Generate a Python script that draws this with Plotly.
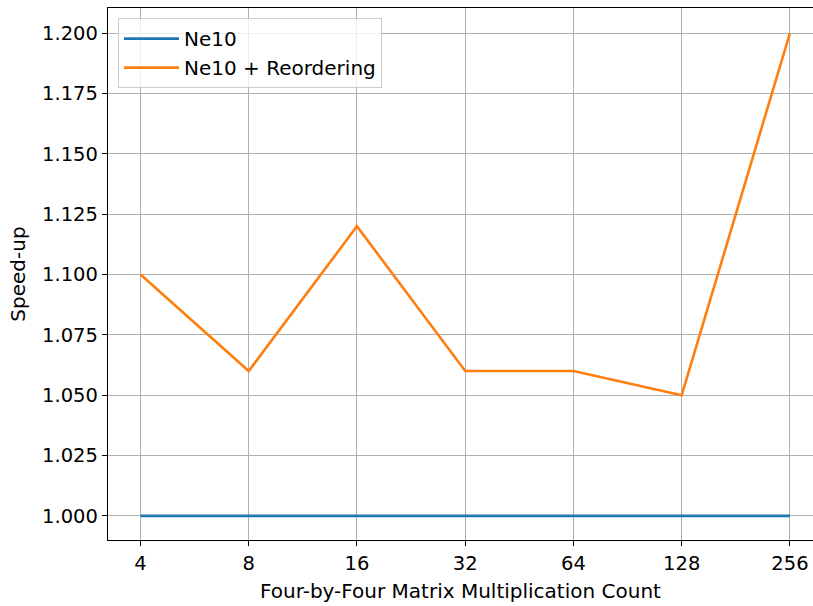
import plotly.graph_objects as go

categories = ["4", "8", "16", "32", "64", "128", "256"]
ne10 = [1.0, 1.0, 1.0, 1.0, 1.0, 1.0, 1.0]
ne10_reorder = [1.10, 1.06, 1.12, 1.06, 1.06, 1.05, 1.20]

font = "DejaVu Sans"
fig = go.Figure()
fig.add_trace(go.Scatter(x=categories, y=ne10, mode="lines", name="Ne10",
                         line=dict(color="#1f77b4", width=2.6)))
fig.add_trace(go.Scatter(x=categories, y=ne10_reorder, mode="lines", name="Ne10 + Reordering",
                         line=dict(color="#ff7f0e", width=2.6)))

fig.update_layout(
    width=813, height=606,
    margin=dict(l=108, r=0, t=8, b=66),
    paper_bgcolor="white", plot_bgcolor="white",
    font=dict(family=font, size=19.5, color="black"),
    showlegend=True,
    legend=dict(x=0.0142, y=0.981, xanchor="left", yanchor="top",
                bgcolor="rgba(255,255,255,0.8)", bordercolor="#cccccc", borderwidth=1,
                font=dict(size=20, family=font), tracegroupgap=0, itemwidth=55),
)
fig.update_xaxes(
    type="category", range=[-0.3, 6.213],
    showgrid=True, gridcolor="#b0b0b0", gridwidth=1,
    showline=True, linecolor="black", linewidth=1.3, mirror=True,
    ticks="outside", ticklen=5, tickcolor="black", tickwidth=1.3,
    title=dict(text="Four-by-Four Matrix Multiplication Count", font=dict(size=20), standoff=10),
    zeroline=False,
)
fig.update_yaxes(
    range=[0.99, 1.2104], dtick=0.025, tick0=1.0, tickformat=".3f",
    showgrid=True, gridcolor="#b0b0b0", gridwidth=1,
    showline=True, linecolor="black", linewidth=1.3,
    ticks="outside", ticklen=5, tickcolor="black", tickwidth=1.3,
    title=dict(text="Speed-up", font=dict(size=20), standoff=11),
    zeroline=False,
)
fig.write_html("out.html")
